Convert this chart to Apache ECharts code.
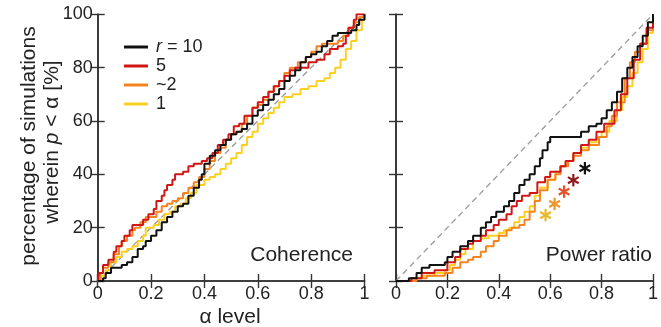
<!DOCTYPE html>
<html><head><meta charset="utf-8">
<script src="https://cdn.jsdelivr.net/npm/echarts@6/dist/echarts.min.js"></script>
<style>html,body{margin:0;padding:0;background:#fff}#c{width:661px;height:327px}</style>
</head><body><div id="c"></div>
<script>
// ---- data ----
const xTickLabels = ['0', '0.2', '0.4', '0.6', '0.8', '1'];
const yTickLabels = ['0', '20', '40', '60', '80', '100'];
const legendKeys = ['r10', 'r5', 'r2', 'r1'];
const legendLabels = ['{i|r} = 10', '5', '~2', '1'];
const panelTitles = ['Coherence', 'Power ratio'];

// Coherence panel (alpha, % of simulations with p < alpha)
const cohR10 = [[0,0],[0.02,1],[0.03,3],[0.05,5],[0.07,5],[0.09,6],[0.11,7],[0.13,9],[0.15,12],[0.17,13],[0.18,15],[0.2,17],[0.22,19],[0.24,22],[0.26,24],[0.28,26],[0.3,28],[0.32,29],[0.34,32],[0.36,35],[0.38,38],[0.39,40],[0.4,44],[0.42,47],[0.44,49],[0.46,51],[0.48,53],[0.5,55],[0.52,56],[0.54,57],[0.56,59],[0.58,62],[0.6,64],[0.62,66],[0.64,68],[0.66,70],[0.68,72],[0.7,75],[0.72,77],[0.74,79],[0.76,82],[0.78,84],[0.8,85],[0.82,86],[0.84,88],[0.86,90],[0.88,92],[0.9,93],[0.93,93],[0.95,94],[0.97,96],[0.98,98],[1,100]];
const cohR5 = [[0,0],[0.005,3],[0.02,6],[0.04,8],[0.06,11],[0.07,13],[0.09,15],[0.1,17],[0.12,19],[0.13,21],[0.16,21],[0.17,23],[0.19,25],[0.21,27],[0.22,30],[0.24,32],[0.25,34],[0.26,36],[0.28,38],[0.29,40],[0.32,41],[0.34,43],[0.36,44],[0.39,45],[0.41,46],[0.43,48],[0.45,51],[0.47,53],[0.49,55],[0.51,58],[0.53,59],[0.55,62],[0.58,65],[0.6,67],[0.62,69],[0.64,71],[0.66,73],[0.68,75],[0.7,77],[0.72,79],[0.74,80],[0.77,80],[0.79,82],[0.82,83],[0.85,85],[0.87,87],[0.9,88],[0.92,89],[0.93,92],[0.94,95],[0.96,98],[0.97,100],[1,100]];
const cohR2 = [[0,0],[0.01,3],[0.02,5],[0.04,7],[0.06,10],[0.08,13],[0.09,15],[0.11,17],[0.13,19],[0.14,20],[0.16,22],[0.18,24],[0.2,24],[0.22,26],[0.24,28],[0.26,29],[0.28,30],[0.3,31],[0.32,33],[0.34,35],[0.36,37],[0.38,39],[0.4,42],[0.42,45],[0.44,48],[0.46,50],[0.48,53],[0.5,55],[0.52,56],[0.54,59],[0.56,62],[0.58,65],[0.6,66],[0.62,68],[0.64,71],[0.66,73],[0.68,75],[0.7,78],[0.72,80],[0.75,82],[0.78,84],[0.8,86],[0.82,88],[0.84,89],[0.87,89],[0.9,90],[0.92,92],[0.94,95],[0.96,97],[0.98,99],[1,100]];
const cohR1 = [[0,0],[0.01,2],[0.03,4],[0.05,7],[0.07,9],[0.09,11],[0.11,12],[0.13,13],[0.15,15],[0.17,17],[0.18,20],[0.21,21],[0.23,23],[0.25,25],[0.27,26],[0.29,28],[0.31,29],[0.33,31],[0.35,33],[0.37,36],[0.4,38],[0.42,39],[0.44,40],[0.46,42],[0.48,44],[0.5,46],[0.52,48],[0.54,51],[0.56,54],[0.58,56],[0.6,59],[0.62,61],[0.64,63],[0.66,65],[0.68,67],[0.7,69],[0.73,70],[0.76,72],[0.79,73],[0.82,75],[0.85,76],[0.87,78],[0.89,80],[0.91,83],[0.93,87],[0.95,90],[0.97,94],[0.99,98],[1,100]];

// Power ratio panel
const powR10 = [[0,0],[0.05,1],[0.08,3],[0.1,5],[0.13,6],[0.19,7],[0.2,9],[0.22,11],[0.25,13],[0.28,15],[0.3,17],[0.33,20],[0.35,22],[0.37,24],[0.39,26],[0.42,28],[0.44,30],[0.46,33],[0.48,36],[0.5,38],[0.52,40],[0.54,43],[0.56,46],[0.57,49],[0.59,52],[0.6,54],[0.7,54],[0.72,56],[0.75,58],[0.78,59],[0.8,61],[0.82,64],[0.84,67],[0.86,71],[0.88,76],[0.9,80],[0.92,84],[0.94,88],[0.96,92],[0.98,97],[1,100]];
const powR5 = [[0,0],[0.03,0],[0.06,1],[0.1,3],[0.15,4],[0.2,7],[0.23,9],[0.25,12],[0.28,14],[0.3,15],[0.33,17],[0.35,19],[0.38,21],[0.4,23],[0.43,25],[0.45,28],[0.47,30],[0.49,32],[0.52,33],[0.55,37],[0.58,39],[0.6,41],[0.64,43],[0.66,45],[0.69,48],[0.72,51],[0.75,53],[0.78,56],[0.81,59],[0.85,64],[0.875,70],[0.9,76],[0.925,83],[0.95,89],[0.975,95],[1,100]];
const powR2 = [[0,0],[0.05,0],[0.08,1],[0.12,2],[0.19,3],[0.22,5],[0.25,7],[0.28,8],[0.3,9],[0.33,11],[0.35,13],[0.38,15],[0.4,17],[0.43,19],[0.45,20],[0.48,21],[0.5,23],[0.52,26],[0.54,30],[0.56,34],[0.59,38],[0.62,40],[0.64,43],[0.67,45],[0.69,47],[0.72,49],[0.75,51],[0.79,54],[0.82,58],[0.84,62],[0.86,67],[0.89,76],[0.91,82],[0.93,86],[0.95,89],[0.975,94],[1,100]];
const powR1 = [[0,0],[0.03,0],[0.06,1],[0.1,2],[0.15,3],[0.19,4],[0.21,6],[0.23,8],[0.25,10],[0.27,12],[0.3,15],[0.33,16],[0.36,17],[0.4,18],[0.42,19],[0.44,20],[0.46,22],[0.48,24],[0.5,26],[0.52,28],[0.54,32],[0.56,35],[0.59,38],[0.62,41],[0.64,43],[0.66,45],[0.69,48],[0.72,50],[0.75,52],[0.78,54],[0.8,56],[0.83,60],[0.86,64],[0.88,69],[0.9,73],[0.92,78],[0.94,82],[0.96,87],[0.98,93],[1,100]];

// asterisk markers in the power-ratio panel
const starX = [0.582, 0.617, 0.654, 0.690, 0.735];
const starY = [24.7, 28.9, 33.5, 37.8, 42.3];
const starColors = ['#e8b92a','#e89a2e','#e2562b','#8e1b1b','#111111'];

const diagonal = [[0,0],[1,100]];
const lineColors = {r10:'#111111', r5:'#d11616', r2:'#f5841f', r1:'#fbd023'};

// ---- chart ----
const chart = echarts.init(document.getElementById('c'), null, {renderer:'canvas'});
const FONT = 'Liberation Sans, Arial, sans-serif';
const TXT = '#222';
const grids = [
  {left:97.7, top:14.3, width:266.8, height:266.7},
  {left:396, top:14.3, width:267.5, height:266.7}
];
const tick = {show:true, inside:true, length:7, lineStyle:{color:'#333', width:1.4}};
const aLine = {show:true, lineStyle:{color:'#333', width:1.6}};
const xAxes = [], yAxes = [];
grids.forEach((g, gi) => {
  xAxes.push({type:'value', gridIndex:gi, position:'bottom', min:0, max:1, interval:0.2,
    axisLine:aLine, axisTick:tick, splitLine:{show:false},
    axisLabel:{show:true, margin:4, fontSize:18, fontFamily:FONT, color:TXT,
      formatter: v => xTickLabels[Math.round(v/0.2)]}});
  xAxes.push({type:'value', gridIndex:gi, position:'top', min:0, max:1, interval:0.2,
    axisLine:aLine, axisTick:tick, splitLine:{show:false}, axisLabel:{show:false}});
  yAxes.push({type:'value', gridIndex:gi, position:'left', min:0, max:100, interval:20,
    axisLine:aLine, axisTick:tick, splitLine:{show:false},
    axisLabel:{show:gi===0, margin:5, fontSize:18, fontFamily:FONT, color:TXT,
      formatter: v => yTickLabels[Math.round(v/20)]}});
  yAxes.push({type:'value', gridIndex:gi, position:'right', min:0, max:100, interval:20,
    axisLine:aLine, axisTick:tick, splitLine:{show:false}, axisLabel:{show:false}});
});

const series = [];
const panels = [
  {r10:cohR10, r5:cohR5, r2:cohR2, r1:cohR1},
  {r10:powR10, r5:powR5, r2:powR2, r1:powR1}
];
panels.forEach((p, gi) => {
  series.push({type:'line', name:'diag'+gi, xAxisIndex:gi*2, yAxisIndex:gi*2, data:diagonal,
    showSymbol:false, silent:true, z:1,
    lineStyle:{color:'#9a9a9a', width:1.3, type:[6,4]}});
  ['r1','r2','r5','r10'].forEach((k, ki) => {
    series.push({type:'line', name:k, xAxisIndex:gi*2, yAxisIndex:gi*2, data:p[k],
      step:'end', showSymbol:false, z:2+ki, color:lineColors[k],
      lineStyle:{color:lineColors[k], width:2}});
  });
});
// asterisks drawn at data coordinates via the axes
series.push({type:'custom', name:'stars', xAxisIndex:2, yAxisIndex:2, z:10, silent:true,
  data: starX.map((x, i) => [x, starY[i], i]),
  renderItem: (params, api) => {
    const c = api.coord([api.value(0), api.value(1)]);
    const col = starColors[api.value(2)];
    const r = 6.2;
    const kids = [90, 30, 150].map(a => {
      const t = a * Math.PI / 180;
      const dx = r * Math.cos(t), dy = r * Math.sin(t);
      return {type:'line', shape:{x1:c[0]-dx, y1:c[1]-dy, x2:c[0]+dx, y2:c[1]+dy},
        style:{stroke:col, lineWidth:2.2, lineCap:'butt'}};
    });
    return {type:'group', children:kids};
  }
});

chart.setOption({
  animation:false,
  backgroundColor:'#fff',
  grid: grids,
  xAxis: xAxes,
  yAxis: yAxes,
  legend: {
    data: legendKeys, orient:'vertical', left:119, top:33, itemGap:1,
    icon:'rect', itemWidth:24, itemHeight:3,
    formatter: name => legendLabels[legendKeys.indexOf(name)],
    textStyle:{fontSize:18, fontFamily:FONT, color:TXT, lineHeight:18, padding:[0,0,0,3],
      rich:{i:{fontStyle:'italic', fontSize:18, fontFamily:FONT, color:TXT, lineHeight:18}}}
  },
  series: series,
  graphic: [
    {type:'text', x:29, y:146, rotation:Math.PI/2,
      style:{text:'percentage of simulations', fontSize:21, fontFamily:FONT, fill:TXT, align:'center', verticalAlign:'middle'}},
    {type:'text', x:52, y:142, rotation:Math.PI/2,
      style:{text:'wherein {i|p} < α [%]', fontSize:21, fontFamily:FONT, fill:TXT, align:'center', verticalAlign:'middle',
        rich:{i:{fontStyle:'italic', fontSize:21, fontFamily:FONT, fill:TXT}}}},
    {type:'text', x:230, y:317,
      style:{text:'α level', fontSize:21, fontFamily:FONT, fill:TXT, align:'center', verticalAlign:'middle'}},
    {type:'text', x:353, y:255,
      style:{text:panelTitles[0], fontSize:21, fontFamily:FONT, fill:TXT, align:'right', verticalAlign:'middle'}},
    {type:'text', x:652, y:255,
      style:{text:panelTitles[1], fontSize:21, fontFamily:FONT, fill:TXT, align:'right', verticalAlign:'middle'}}
  ]
});
</script>
</body></html>
